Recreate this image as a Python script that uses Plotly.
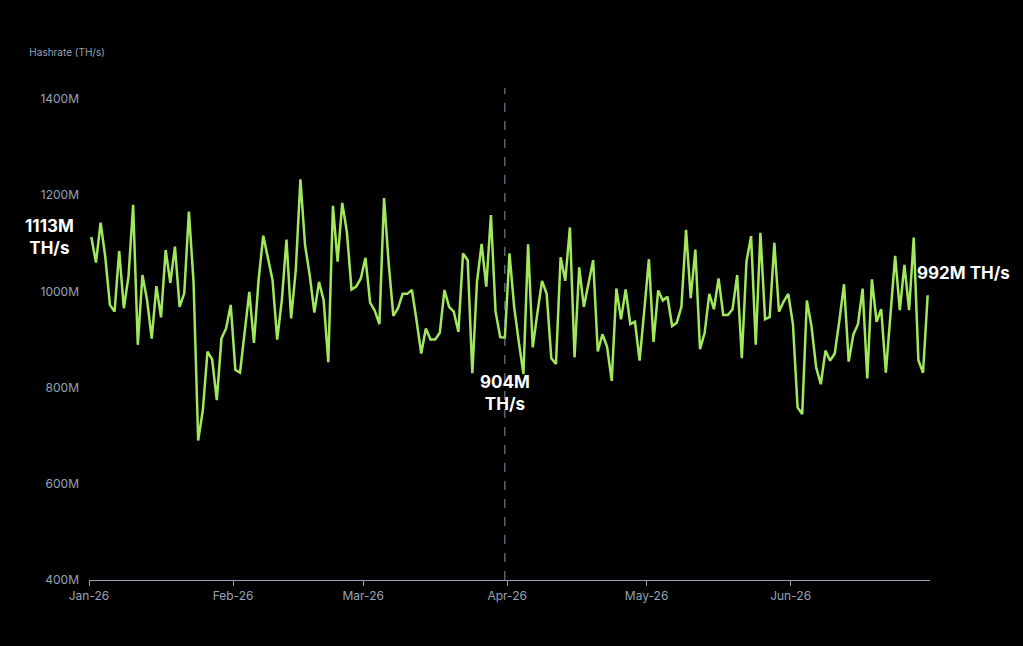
import pandas as pd
import plotly.graph_objects as go

# Daily hashrate, million TH/s, 2026-01-01 .. 2026-06-30
start_date = "2026-01-01 12:00"
hashrate_m = [
    1113, 1060, 1143, 1072, 972, 958, 1084, 965, 1031, 1180,
    889, 1034, 982, 902, 1011, 946, 1086, 1018, 1093, 968,
    996, 1166, 1020, 690, 753, 875, 859, 774, 902, 923,
    972, 837, 831, 915, 999, 893, 1024, 1116, 1071, 1024,
    900, 982, 1108, 944, 1044, 1233, 1096, 1034, 956, 1020,
    982, 853, 1178, 1062, 1184, 1124, 1004, 1010, 1027, 1070,
    977, 960, 932, 1194, 1058, 949, 965, 995, 995, 1003,
    939, 871, 923, 900, 900, 914, 1003, 968, 958, 916,
    1079, 1065, 830, 1020, 1099, 1010, 1159, 958, 905, 904,
    1079, 968, 895, 828, 1098, 884, 955, 1022, 995, 861,
    849, 1071, 1022, 1133, 863, 1050, 968, 1020, 1065, 875,
    911, 885, 814, 1006, 942, 1004, 932, 937, 856, 960,
    1067, 895, 1002, 981, 989, 928, 935, 968, 1128, 986,
    1087, 880, 914, 995, 963, 1027, 951, 951, 963, 1034,
    861, 1062, 1115, 889, 1122, 942, 947, 1101, 958, 979,
    995, 932, 759, 745, 981, 927, 842, 807, 877, 856,
    871, 940, 1015, 854, 910, 932, 1006, 819, 1025, 937,
    963, 831, 950, 1074, 961, 1055, 961, 1112, 857, 831,
    992,
]
dates = pd.date_range(start_date, periods=len(hashrate_m), freq="D")

x_tick_dates = ["2026-01-01", "2026-02-01", "2026-03-01", "2026-04-01", "2026-05-01", "2026-06-01"]
x_tick_labels = ["Jan-26", "Feb-26", "Mar-26", "Apr-26", "May-26", "Jun-26"]
y_ticks = [400, 600, 800, 1000, 1200, 1400]
y_tick_labels = [f"{v}M" for v in y_ticks]
x_range = ["2026-01-01", "2026-07-01"]
y_range = [400, 1423]
marker_index = 89  # highlighted point (dashed line)

LINE = "#a2e85c"
AXIS = "#94a3b8"
FONT = "Inter, Liberation Sans, sans-serif"

fig = go.Figure()
fig.add_trace(go.Scatter(
    x=dates, y=hashrate_m, mode="lines",
    line=dict(color=LINE, width=2.5),
    hoverinfo="skip", showlegend=False,
))

mx = dates[marker_index]
fig.add_shape(type="line", xref="x", yref="paper", x0=mx, x1=mx, y0=0, y1=1,
              line=dict(color="#8194ad", width=1, dash="dash"))

def lbl(v):
    return f"{v:.0f}M"

bold = dict(family=FONT, size=17, color="white", weight="bold")
fig.add_annotation(x=dates[0], y=hashrate_m[0], xref="x", yref="y",
                   text=f"{lbl(hashrate_m[0])}<br>TH/s", showarrow=False,
                   xanchor="center", yanchor="middle", xshift=-42, align="center",
                   font=bold)
fig.add_annotation(x=mx, y=hashrate_m[marker_index], xref="x", yref="y",
                   text=f"{lbl(hashrate_m[marker_index])}<br>TH/s", showarrow=False,
                   xanchor="center", yanchor="middle", yshift=-55, align="center",
                   font=bold)
fig.add_annotation(x=dates[-1], y=hashrate_m[-1], xref="x", yref="y",
                   text=f"{lbl(hashrate_m[-1])} TH/s", showarrow=False,
                   xanchor="left", yanchor="middle", xshift=-13, yshift=22,
                   font=bold)

fig.update_layout(
    width=1023, height=646,
    paper_bgcolor="black", plot_bgcolor="black",
    margin=dict(l=89, r=93, t=88, b=66),
    title=dict(text="Hashrate (TH/s)", x=0.0287, xanchor="left",
               y=1 - 52.5 / 646, yanchor="middle", yref="container",
               font=dict(family=FONT, size=10, color=AXIS)),
    xaxis=dict(type="date", range=x_range, tickvals=x_tick_dates, ticktext=x_tick_labels,
               showgrid=False, zeroline=False,
               showline=True, linecolor=AXIS, linewidth=1,
               ticks="outside", ticklen=5, tickcolor=AXIS,
               tickfont=dict(family=FONT, size=12, color=AXIS)),
    yaxis=dict(range=y_range, tickvals=y_ticks, ticktext=y_tick_labels,
               showgrid=False, zeroline=False, showline=False,
               ticks="", ticklabelstandoff=9,
               tickfont=dict(family=FONT, size=12, color=AXIS)),
)

fig.write_html("out.html", config={"displayModeBar": False},
               post_script="document.body.style.margin='0';document.body.style.background='black';")
